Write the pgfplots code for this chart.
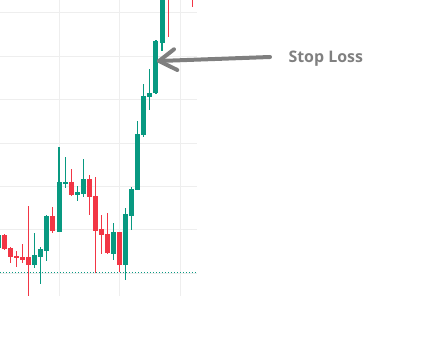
\documentclass[border=0pt]{standalone}
\usepackage{pgfplots}
\usepackage{pgfplotstable}
\pgfplotsset{compat=1.18}
\usepackage{fontspec}
\setmainfont{Open Sans}
\definecolor{tvgreen}{HTML}{089981}
\definecolor{tvred}{HTML}{F23645}
\definecolor{gridgray}{HTML}{EEEEEE}
\definecolor{arrowgray}{HTML}{7F7F7F}
\definecolor{textgray}{HTML}{808080}

% i  open  high  low  close
\pgfplotstableread{
i O H L C
0 105.76 108.90 105.60 108.82
6 101.91 109.35 101.29 104.22
7 103.82 105.99 97.53 105.67
8 105.21 113.43 102.90 113.20
10 109.59 129.17 109.50 121.04
11 120.65 126.87 119.72 121.04
13 118.11 120.12 116.73 118.73
14 118.34 126.34 117.65 121.73
19 104.52 111.59 103.13 109.52
21 101.98 115.05 98.53 113.66
22 113.20 119.95 109.98 119.42
23 119.19 135.09 119.19 132.10
24 131.87 143.62 131.47 140.85
25 140.69 147.07 137.63 141.54
26 141.54 153.76 141.31 153.53
27 153.06 168.50 151.29 166.00
}\greenT

\pgfplotstableread{
i O H L C
1 108.82 109.06 105.37 105.60
2 105.90 105.95 102.44 103.82
3 103.99 105.14 101.52 103.69
4 103.82 106.75 102.30 103.13
5 103.82 115.51 94.84 101.91
9 113.20 115.35 109.35 109.82
12 121.04 124.03 117.81 118.11
15 121.73 122.72 113.50 117.65
16 117.81 122.26 100.00 109.82
17 110.21 113.43 104.52 108.89
18 109.06 113.89 104.52 104.75
20 109.52 109.60 100.37 101.98
28 170.00 171.50 154.38 167.00
32 172.00 174.00 161.43 165.00
}\redT

\begin{document}
\begin{tikzpicture}
\useasboundingbox (0,0) rectangle (445bp,344bp);
\begin{axis}[
  at={(0bp,48bp)}, anchor=south west,
  scale only axis, width=197bp, height=296bp,
  xmin=0.264, xmax=32.77, ymin=94.77, ymax=162.97,
  axis line style={draw=none},
  xtick={10,20,30}, ytick={100,110,...,160},
  xticklabels={}, yticklabels={},
  major tick length=0pt,
  grid=major, grid style={color=gridgray, line width=1bp},
  clip mode=individual,
  candle/.style={draw=none, mark=none, error bars/.cd, y dir=both, y explicit, error mark=none},
]
% green wicks
\addplot[candle, error bar style={draw=tvgreen, line width=1.1bp}]
  table[x=i, y expr={(\thisrow{H}+\thisrow{L})/2}, y error expr={(\thisrow{H}-\thisrow{L})/2}] {\greenT};
% green bodies
\addplot[candle, error bar style={draw=tvgreen, line width=5bp, line cap=butt}]
  table[x=i, y expr={(\thisrow{O}+\thisrow{C})/2}, y error expr={abs(\thisrow{C}-\thisrow{O})/2}] {\greenT};
% red wicks
\addplot[candle, error bar style={draw=tvred, line width=1.1bp}]
  table[x=i, y expr={(\thisrow{H}+\thisrow{L})/2}, y error expr={(\thisrow{H}-\thisrow{L})/2}] {\redT};
% red bodies
\addplot[candle, error bar style={draw=tvred, line width=5bp, line cap=butt}]
  table[x=i, y expr={(\thisrow{O}+\thisrow{C})/2}, y error expr={abs(\thisrow{C}-\thisrow{O})/2}] {\redT};
% dotted level line
\addplot[tvgreen, line width=1.3bp, dash pattern=on 1.3bp off 1.7bp] coordinates {(0.264,100.23) (32.77,100.23)};
\end{axis}
% annotation arrow
\draw[arrowgray, line width=4bp, line cap=round] (159bp,283bp) -- (215bp,285bp) -- (270bp,287bp);
\draw[arrowgray, line width=4bp, line cap=round, line join=round] (174bp,294.7bp) -- (159bp,283bp) -- (177.3bp,274bp);
\node[anchor=base west, inner sep=0pt, text=textgray, font=\fontsize{16}{18}\selectfont\bfseries] at (288.3bp,281.3bp) {Stop Loss};
\end{tikzpicture}
\end{document}
